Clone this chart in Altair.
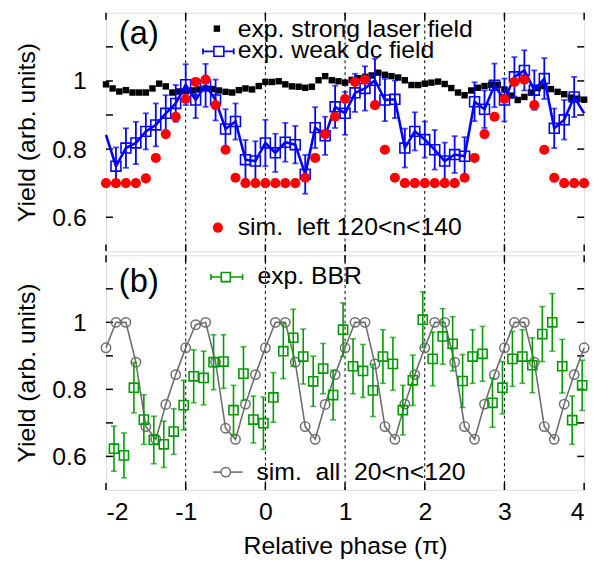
import altair as alt
import pandas as pd

FONT = "Liberation Sans"

# ---------------- data ----------------
strong_x = [-2.0, -1.917, -1.833, -1.75, -1.667, -1.583, -1.5, -1.417, -1.333, -1.25, -1.167, -1.083,
            -1.0, -0.917, -0.833, -0.75, -0.667, -0.583, -0.5, -0.417, -0.333, -0.25, -0.167, -0.083,
            0.0, 0.083, 0.167, 0.25, 0.333, 0.417, 0.5, 0.583, 0.667, 0.75, 0.833, 0.917,
            1.0, 1.083, 1.167, 1.25, 1.333, 1.417, 1.5, 1.583, 1.667, 1.75, 1.833, 1.917,
            2.0, 2.083, 2.167, 2.25, 2.333, 2.417, 2.5, 2.583, 2.667, 2.75, 2.833, 2.917,
            3.0, 3.083, 3.167, 3.25, 3.333, 3.417, 3.5, 3.583, 3.667, 3.75, 3.833, 3.917, 4.0]
strong_y = [0.990, 0.978, 0.969, 0.973, 0.966, 0.966, 0.966, 0.978, 0.992, 0.984, 0.966, 0.969,
            0.970, 0.972, 0.975, 0.978, 0.976, 0.972, 0.968, 0.966, 0.973, 0.978, 0.975, 0.985,
            0.997, 0.997, 0.999, 0.990, 0.984, 0.983, 0.980, 0.983, 1.002, 1.014, 1.002, 0.999,
            0.995, 1.003, 1.008, 1.012, 1.016, 1.024, 1.018, 1.014, 1.010, 1.002, 0.988, 0.988,
            0.992, 0.995, 0.998, 0.991, 0.979, 0.966, 0.958, 0.972, 0.980, 0.985, 0.989, 0.988,
            0.975, 0.957, 0.944, 0.953, 0.966, 0.979, 0.985, 0.976, 0.968, 0.961, 0.951, 0.948, 0.945]

sim_x = [-2.0, -1.875, -1.75, -1.625, -1.5, -1.375, -1.25, -1.125, -1.0, -0.875, -0.75, -0.625,
         -0.5, -0.375, -0.25, -0.125, 0.0, 0.125, 0.25, 0.375, 0.5, 0.625, 0.75, 0.875,
         1.0, 1.125, 1.25, 1.375, 1.5, 1.625, 1.75, 1.875, 2.0, 2.125, 2.25, 2.375,
         2.5, 2.625, 2.75, 2.875, 3.0, 3.125, 3.25, 3.375, 3.5, 3.625, 3.75, 3.875, 4.0]

weak_y = [0.842, 0.750, 0.803, 0.818, 0.852, 0.871, 0.905, 0.934, 0.989, 0.944, 0.987, 0.944,
          0.859, 0.881, 0.769, 0.765, 0.818, 0.789, 0.820, 0.813, 0.726, 0.863, 0.839, 0.924,
          0.905, 0.965, 0.978, 1.002, 0.944, 0.946, 0.803, 0.852, 0.828, 0.798, 0.765, 0.784,
          0.779, 0.939, 0.917, 0.987, 0.944, 1.012, 1.031, 0.973, 1.007, 0.861, 0.886, 0.953, 0.905]
weak_err = [0.060, 0.055, 0.058, 0.062, 0.053, 0.063, 0.053, 0.054, 0.060, 0.053, 0.063, 0.060,
            0.058, 0.053, 0.058, 0.058, 0.068, 0.056, 0.057, 0.055, 0.057, 0.060, 0.056, 0.062,
            0.063, 0.056, 0.065, 0.063, 0.062, 0.055, 0.057, 0.056, 0.053, 0.058, 0.054, 0.054,
            0.056, 0.057, 0.055, 0.064, 0.063, 0.058, 0.059, 0.058, 0.060, 0.058, 0.058, 0.059, 0.060]

left_y = [0.700, 0.700, 0.700, 0.700, 0.714, 0.774, 0.844, 0.895, 0.947, 0.997, 1.004, 0.929,
          0.798, 0.716, 0.700, 0.700, 0.700, 0.700, 0.700, 0.700, 0.716, 0.774, 0.844, 0.895,
          0.947, 0.997, 1.004, 0.929, 0.798, 0.716, 0.700, 0.700, 0.700, 0.700, 0.700, 0.700,
          0.716, 0.774, 0.844, 0.895, 0.947, 0.997, 1.004, 0.929, 0.798, 0.716, 0.700, 0.700, 0.700]

all_y = [0.924, 1.000, 1.000, 0.881, 0.689, 0.651, 0.755, 0.844,
         0.924, 0.993, 1.000, 0.881, 0.684, 0.651, 0.756, 0.844,
         0.924, 1.000, 1.000, 0.881, 0.689, 0.651, 0.755, 0.844,
         0.924, 1.000, 1.000, 0.876, 0.689, 0.651, 0.756, 0.844,
         0.924, 1.000, 1.000, 0.881, 0.689, 0.651, 0.756, 0.844,
         0.924, 1.000, 1.000, 0.881, 0.689, 0.651, 0.756, 0.844,
         0.924]

bbr_x = [-1.9, -1.775, -1.65, -1.525, -1.4, -1.275, -1.15, -1.025, -0.9, -0.775, -0.65, -0.525,
         -0.4, -0.275, -0.15, -0.025, 0.1, 0.225, 0.35, 0.475, 0.6, 0.725, 0.85, 0.975,
         1.1, 1.225, 1.35, 1.475, 1.6, 1.725, 1.85, 1.975, 2.1, 2.225, 2.35, 2.475,
         2.6, 2.725, 2.85, 2.975, 3.1, 3.225, 3.35, 3.475, 3.6, 3.725, 3.85, 3.975]
bbr_y = [0.623, 0.603, 0.805, 0.710, 0.649, 0.636, 0.674, 0.753, 0.839, 0.834, 0.881, 0.883,
         0.738, 0.847, 0.710, 0.699, 0.776, 0.914, 0.954, 0.898, 0.824, 0.862, 0.783, 0.978,
         0.869, 0.855, 0.797, 0.898, 0.876, 0.738, 0.827, 1.008, 0.891, 0.958, 0.936, 0.825,
         0.898, 0.906, 0.760, 0.805, 0.891, 0.898, 0.872, 0.965, 1.000, 0.869, 0.708, 0.812]
bbr_err = [0.067, 0.067, 0.075, 0.074, 0.071, 0.069, 0.068, 0.074, 0.079, 0.080, 0.082, 0.080,
           0.074, 0.080, 0.070, 0.078, 0.074, 0.082, 0.085, 0.082, 0.075, 0.075, 0.074, 0.080,
           0.082, 0.079, 0.078, 0.080, 0.079, 0.074, 0.075, 0.083, 0.080, 0.083, 0.081, 0.079,
           0.080, 0.082, 0.073, 0.078, 0.082, 0.080, 0.082, 0.082, 0.086, 0.080, 0.072, 0.075]

guide_x = [-1, 0, 1, 2, 3]
x_tick_vals = [-2, -1, 0, 1, 2, 3, 4]
y_tick_vals = [0.6, 0.7, 0.8, 0.9, 1.0, 1.1]
y_label_vals = [0.6, 0.8, 1.0]

# ---------------- layout / style ----------------
W = 483
HA = 241
HB = 237
BLUE = "#0000ff"
RED = "#ff0000"
GREEN = "#009a00"
GRAY = "#6e6e6e"

xs = alt.Scale(domain=[-2, 4], nice=False, zero=False)
ys = alt.Scale(domain=[0.5, 1.2], nice=False, zero=False)

yaxis = alt.Axis(values=y_label_vals, labelExpr="'' + datum.value", ticks=False, domain=False,
                 grid=False, labelFont=FONT, labelFontSize=25, labelPadding=20, labelColor="black",
                 title="Yield (arb. units)", titleFont=FONT, titleFontSize=25,
                 titleFontWeight="normal", titleColor="black", titlePadding=12)
xaxis = alt.Axis(values=x_tick_vals, labelExpr="'' + datum.value", ticks=False, domain=False,
                 grid=False, labelFont=FONT, labelFontSize=25, labelPadding=10, labelColor="black",
                 title="Relative phase (\u03c0)", titleFont=FONT, titleFontSize=25,
                 titleFontWeight="normal", titleColor="black", titlePadding=9)


def X(field="x", axis=None):
    return alt.X(f"{field}:Q", scale=xs, axis=axis)


def Y(field="v"):
    return alt.Y(f"{field}:Q", scale=ys, axis=yaxis)


df_strong = pd.DataFrame({"x": strong_x, "v": strong_y})
df_weak = pd.DataFrame({"x": sim_x, "v": weak_y, "e": weak_err})
df_left = pd.DataFrame({"x": sim_x, "v": left_y})
df_all = pd.DataFrame({"x": sim_x, "v": all_y})
df_bbr = pd.DataFrame({"x": bbr_x, "v": bbr_y, "e": bbr_err})
df_guide = pd.DataFrame({"x": guide_x})
df_xt = pd.DataFrame({"x": x_tick_vals})
df_yt = pd.DataFrame({"v": y_tick_vals})
one = pd.DataFrame({"k": [0]})


def frame_parts(h, xaxis_def=None):
    guides = alt.Chart(df_guide).mark_rule(color="black", strokeWidth=1, strokeDash=[3, 3]).encode(
        x=X("x", xaxis_def))
    yt_l = alt.Chart(df_yt).mark_rule(color="black", strokeWidth=1.5).encode(
        y=Y("v"), x=alt.value(0), x2=alt.value(7))
    yt_r = alt.Chart(df_yt).mark_rule(color="black", strokeWidth=1.5).encode(
        y=Y("v"), x=alt.value(W - 7), x2=alt.value(W))
    xt_t = alt.Chart(df_xt).mark_rule(color="black", strokeWidth=1.5).encode(
        x=X("x", xaxis_def), y=alt.value(0), y2=alt.value(7))
    xt_b = alt.Chart(df_xt).mark_rule(color="black", strokeWidth=1.5).encode(
        x=X("x", xaxis_def), y=alt.value(h - 7), y2=alt.value(h))
    return [guides, yt_l, yt_r, xt_t, xt_b]


def txt(s, x, y, size=25):
    return alt.Chart(one).mark_text(align="left", baseline="alphabetic", font=FONT, fontSize=size,
                                    color="black").encode(x=alt.value(x), y=alt.value(y), text=alt.value(s))


# ---------- panel (a) ----------
strong = alt.Chart(df_strong).mark_point(shape="square", filled=True, size=42, color="black", opacity=1).encode(
    x=X(), y=Y())
weak_base = alt.Chart(df_weak).transform_calculate(lo="datum.v - datum.e", hi="datum.v + datum.e")
weak_in = weak_base.transform_filter("datum.x > -1.99 && datum.x < 3.99")
weak_bar = weak_in.mark_rule(color=BLUE, strokeWidth=1.8).encode(x=X(), y=Y("lo"), y2="hi:Q")
weak_cap_lo = weak_in.mark_tick(orient="horizontal", color=BLUE, size=6, thickness=1.8).encode(x=X(), y=Y("lo"))
weak_cap_hi = weak_in.mark_tick(orient="horizontal", color=BLUE, size=6, thickness=1.8).encode(x=X(), y=Y("hi"))
weak_line = weak_base.mark_line(color=BLUE, strokeWidth=2.6).encode(x=X(), y=Y(), order="x:Q")
weak_pts = weak_in.mark_point(shape="square", filled=False, size=100, color=BLUE, strokeWidth=1.6, opacity=1).encode(
    x=X(), y=Y())
left = alt.Chart(df_left).mark_point(shape="circle", filled=True, size=105, color=RED, opacity=1).encode(
    x=X(), y=Y())

leg_a = [
    alt.Chart(one).mark_point(shape="square", filled=True, size=42, color="black", opacity=1).encode(
        x=alt.value(112), y=alt.value(16)),
    txt("exp. strong laser field", 133, 24),
    alt.Chart(one).mark_rule(color=BLUE, strokeWidth=1.8).encode(x=alt.value(98), x2=alt.value(129), y=alt.value(39)),
    alt.Chart(one).mark_rule(color=BLUE, strokeWidth=1.8).encode(x=alt.value(98), y=alt.value(36), y2=alt.value(42)),
    alt.Chart(one).mark_rule(color=BLUE, strokeWidth=1.8).encode(x=alt.value(129), y=alt.value(36), y2=alt.value(42)),
    alt.Chart(one).mark_point(shape="square", filled=True, size=100, color="white", opacity=1).encode(
        x=alt.value(114), y=alt.value(39)),
    alt.Chart(one).mark_point(shape="square", filled=False, size=100, color=BLUE, strokeWidth=1.6, opacity=1).encode(
        x=alt.value(114), y=alt.value(39)),
    txt("exp. weak dc field", 133, 46),
    alt.Chart(one).mark_point(shape="circle", filled=True, size=105, color=RED, opacity=1).encode(
        x=alt.value(113), y=alt.value(217)),
    txt("sim.\u00a0 left 120<n<140", 133, 224),
    txt("(a)", 13, 32, 33),
]

panel_a = alt.layer(*frame_parts(HA), strong, weak_bar, weak_cap_lo, weak_cap_hi, weak_line, weak_pts,
                    left, *leg_a).properties(width=W, height=HA)

# ---------- panel (b) ----------
all_line = alt.Chart(df_all).mark_line(color=GRAY, strokeWidth=1.6).encode(x=X(axis=xaxis), y=Y(), order="x:Q")
all_pts = alt.Chart(df_all).mark_point(shape="circle", filled=False, size=90, color=GRAY, strokeWidth=1.5,
                                       opacity=1).encode(x=X(axis=xaxis), y=Y())
bbr_base = alt.Chart(df_bbr).transform_calculate(lo="datum.v - datum.e", hi="datum.v + datum.e")
bbr_bar = bbr_base.mark_rule(color=GREEN, strokeWidth=1.6).encode(x=X(axis=xaxis), y=Y("lo"), y2="hi:Q")
bbr_cap_lo = bbr_base.mark_tick(orient="horizontal", color=GREEN, size=6, thickness=1.6).encode(
    x=X(axis=xaxis), y=Y("lo"))
bbr_cap_hi = bbr_base.mark_tick(orient="horizontal", color=GREEN, size=6, thickness=1.6).encode(
    x=X(axis=xaxis), y=Y("hi"))
bbr_pts = bbr_base.mark_point(shape="square", filled=False, size=85, color=GREEN, strokeWidth=1.6,
                              opacity=1).encode(x=X(axis=xaxis), y=Y())

leg_b = [
    alt.Chart(one).mark_rule(color=GREEN, strokeWidth=1.6).encode(x=alt.value(106), x2=alt.value(138), y=alt.value(22)),
    alt.Chart(one).mark_rule(color=GREEN, strokeWidth=1.6).encode(x=alt.value(106), y=alt.value(19), y2=alt.value(25)),
    alt.Chart(one).mark_rule(color=GREEN, strokeWidth=1.6).encode(x=alt.value(138), y=alt.value(19), y2=alt.value(25)),
    alt.Chart(one).mark_point(shape="square", filled=True, size=85, color="white", opacity=1).encode(
        x=alt.value(121), y=alt.value(22)),
    alt.Chart(one).mark_point(shape="square", filled=False, size=85, color=GREEN, strokeWidth=1.6, opacity=1).encode(
        x=alt.value(121), y=alt.value(22)),
    txt("exp. BBR", 153, 29),
    alt.Chart(one).mark_rule(color=GRAY, strokeWidth=1.6).encode(x=alt.value(108), x2=alt.value(138), y=alt.value(219)),
    alt.Chart(one).mark_point(shape="circle", filled=True, size=90, color="white", opacity=1).encode(
        x=alt.value(121), y=alt.value(219)),
    alt.Chart(one).mark_point(shape="circle", filled=False, size=90, color=GRAY, strokeWidth=1.5, opacity=1).encode(
        x=alt.value(121), y=alt.value(219)),
    txt("sim.\u00a0 all\u00a0 20<n<120", 152, 227),
    txt("(b)", 13, 37, 33),
]

panel_b = alt.layer(*frame_parts(HB, xaxis), all_line, all_pts, bbr_bar, bbr_cap_lo, bbr_cap_hi, bbr_pts,
                    *leg_b).properties(width=W, height=HB)

chart = alt.vconcat(panel_a, panel_b, spacing=0).properties(
    padding={"left": 6, "top": 0, "right": 5, "bottom": 0}
).configure_view(stroke="black", strokeWidth=2).configure(background="white")

chart.save("out.html", embed_options={"renderer": "svg", "actions": False})
